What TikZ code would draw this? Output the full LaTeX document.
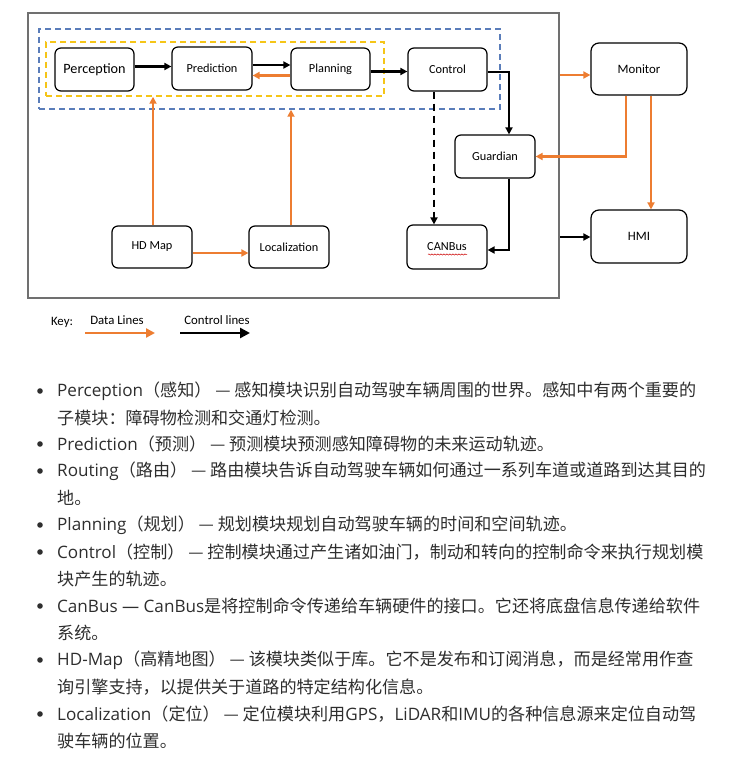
\documentclass[tikz,border=0pt]{standalone}
\usepackage{fontspec}
\setmainfont{Carlito}
\newfontfamily\cjk{Noto Sans CJK SC}
\newfontfamily\lat{Open Sans}
\usetikzlibrary{arrows.meta,decorations.pathmorphing}
\definecolor{dorange}{HTML}{ED7D31}
\definecolor{dblue}{HTML}{5A7DBA}
\definecolor{dyellow}{HTML}{F5C518}
\definecolor{txt}{HTML}{2E2E2E}
\definecolor{framegray}{HTML}{707070}
\begin{document}
\begin{tikzpicture}[x=1pt,y=-1pt,
  box/.style={draw=black, line width=1.2pt, rounded corners=6pt, minimum width=80pt, minimum height=43pt, inner sep=0pt, font=\fontsize{12.3}{14}\selectfont},
  bigbox/.style={box, rounded corners=8pt, minimum width=96pt, minimum height=52pt, font=\fontsize{12.8}{14}\selectfont},
  ctl/.style={draw=black, line width=2.1pt, -{Triangle[length=7pt,width=7pt]}},
  dat/.style={draw=dorange, line width=2.1pt, -{Triangle[length=7pt,width=7pt]}},
  dashbox/.style={line width=1.5pt, dash pattern=on 6pt off 4pt, minimum width=#1, inner sep=0pt},
  keytxt/.style={font=\fontsize{12.8}{14}\selectfont, inner sep=0pt},
  line/.style={anchor=west, inner sep=0pt, text=txt, font=\cjk\fontsize{17.1}{20}\selectfont},
  bul/.style={fill=txt, draw=none}
]
\useasboundingbox (0,0) rectangle (736,757);
\fill[white] (0,0) rectangle (736,757);

% frame and grouping boxes
\node[draw=framegray, line width=1.3pt, minimum width=531pt, minimum height=285pt, inner sep=0pt] (frame) at (293.5,155.5) {};
\node[draw=dblue, dashbox=461pt, minimum height=80pt] (blu) at (269.5,69) {};
\node[draw=dyellow, dashbox=338pt, minimum height=54pt] (yel) at (215,69) {};

% modules
\node[box, minimum width=79pt, font=\fontsize{14.2}{16}\selectfont] (perc) at (94.5,69.5) {Perception};
\node[box] (pred) at (212,68.5) {Prediction};
\node[box, minimum width=79pt, minimum height=42pt] (plan) at (330.5,69) {Planning};
\node[box, minimum width=79pt] (ctrl) at (447.5,69.5) {Control};
\node[box] (guard) at (495,156.5) {Guardian};
\node[box, minimum height=44pt] (can) at (447,247) {CANBus};
\node[box, minimum height=42pt] (hd) at (152,247) {HD Map};
\node[box, minimum height=42pt] (loc) at (289,247) {Localization};
\node[bigbox] (mon) at (639,69) {Monitor};
\node[bigbox, minimum height=53pt] (hmi) at (639,236.5) {HMI};

% spell-check squiggle under CANBus
\draw[red!80!black, line width=0.5pt, decorate, decoration={snake, amplitude=0.6pt, segment length=3pt}]
  ([xshift=-19pt,yshift=-7.5pt]can.center) -- ([xshift=20pt,yshift=-7.5pt]can.center);

% control lines
\draw[ctl] ([yshift=3pt]perc.east) -- ([yshift=3pt]perc.east -| pred.west);
\draw[ctl] ([yshift=3.5pt]pred.east) -- ([yshift=3.5pt]pred.east -| plan.west);
\draw[ctl, line width=2.5pt] ([yshift=-2.5pt]plan.east) -- ([yshift=-2.5pt]plan.east -| ctrl.west);
\draw[ctl] ([yshift=-2.5pt]ctrl.east) -| ([xshift=14pt]guard.north);
\draw[ctl, dash pattern=on 7pt off 5pt] ([xshift=-13.5pt]ctrl.south) -- ([xshift=-13.5pt]ctrl.south |- can.north);
\draw[ctl] ([xshift=14pt]guard.south) |- ([yshift=-3pt]can.east);
\coordinate (hin) at (560,237);
\draw[ctl, line width=2.7pt] (hin) -- (hin -| hmi.west);

% data lines
\draw[dat] ([yshift=-6.5pt]plan.west) -- ([yshift=-6.5pt]plan.west -| pred.east);
\coordinate (min) at (560,75);
\draw[dat] (min) -- (min -| mon.west);
\draw[dat] ([xshift=-13pt]mon.south) |- (guard.east);
\draw[dat] ([xshift=12pt]mon.south) -- ([xshift=12pt]hmi.north);
\draw[dat] ([yshift=-6pt]hd.east) -- ([yshift=-6pt]hd.east -| loc.west);
\draw[dat] ([xshift=1pt]hd.north) -- ([xshift=1pt]hd.north |- yel.south);
\draw[dat] ([xshift=2pt]loc.north) -- ([xshift=2pt]loc.north |- blu.south);

% key
\node[keytxt] (key) at (62,322) {Key:};
\node[keytxt] (kdata) at (117,320) {Data Lines};
\node[keytxt] (kctl) at (217,320) {Control lines};
\coordinate (kd1) at (85,333);
\coordinate (kd2) at (155,333);
\coordinate (kc1) at (180,333);
\coordinate (kc2) at (250,333);
\draw[dat, line width=2.6pt, -{Triangle[length=9pt,width=9pt]}] (kd1) -- (kd2);
\draw[ctl, line width=2.8pt, -{Triangle[length=10pt,width=10pt]}] (kc1) -- (kc2);

% bullet list
\foreach \y in {391,444,471,525,552,606,660,714} \fill[bul] (40,\y) circle (2.8pt);
\node[line] (l1) at (57,391) {{\lat Perception}（感知） — 感知模块识别自动驾驶车辆周围的世界。感知中有两个重要的};
\node[line] (l2) at (57,418) {子模块：障碍物检测和交通灯检测。};
\node[line] (l3) at (57,444) {{\lat Prediction}（预测） — 预测模块预测感知障碍物的未来运动轨迹。};
\node[line] (l4) at (57,471) {{\lat Routing}（路由） — 路由模块告诉自动驾驶车辆如何通过一系列车道或道路到达其目的};
\node[line] (l5) at (57,498) {地。};
\node[line] (l6) at (57,525) {{\lat Planning}（规划） — 规划模块规划自动驾驶车辆的时间和空间轨迹。};
\node[line] (l7) at (57,552) {{\lat Control}（控制） — 控制模块通过产生诸如油门，制动和转向的控制命令来执行规划模};
\node[line] (l8) at (57,579) {块产生的轨迹。};
\node[line] (l9) at (57,606) {{\lat CanBus — CanBus}是将控制命令传递给车辆硬件的接口。它还将底盘信息传递给软件};
\node[line] (l10) at (57,633) {系统。};
\node[line] (l11) at (57,660) {{\lat HD-Map}（高精地图） — 该模块类似于库。它不是发布和订阅消息，而是经常用作查};
\node[line] (l12) at (57,687) {询引擎支持，以提供关于道路的特定结构化信息。};
\node[line] (l13) at (57,714) {{\lat Localization}（定位） — 定位模块利用{\lat GPS}，{\lat LiDAR}和{\lat IMU}的各种信息源来定位自动驾};
\node[line] (l14) at (57,741) {驶车辆的位置。};
\end{tikzpicture}
\end{document}
